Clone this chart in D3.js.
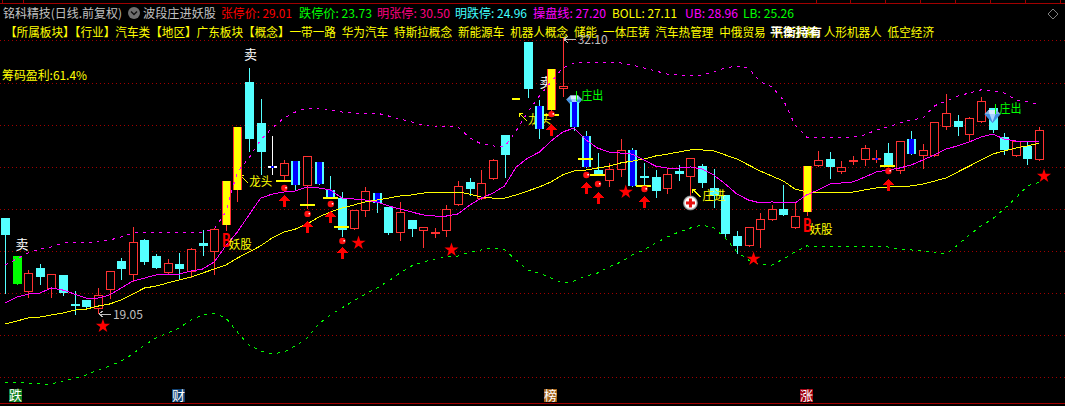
<!DOCTYPE html>
<html><head><meta charset="utf-8">
<style>html,body{margin:0;padding:0;background:#000;overflow:hidden}svg{display:block}text{font-family:"Noto Sans CJK SC","Noto Sans",sans-serif;font-size:12px}</style>
<script src="https://cdn.jsdelivr.net/npm/d3@7/dist/d3.min.js"></script>
</head><body><svg id="c" width="1065" height="406"></svg>
<script>
const opens=[23.57,21.76,20.05,21.19,20.19,20.86,19.48,19.67,19.24,20.14,21.52,20.86,22.52,21.76,20.95,21.38,21.00,22.38,21.95,23.23,24.90,30.03,28.08,26.05,25.56,26.27,25.09,26.22,24.90,24.51,23.04,23.90,24.75,24.09,22.85,23.47,22.95,22.90,22.95,24.18,25.28,24.47,25.42,27.51,29.22,31.93,28.89,28.70,29.69,29.08,27.46,25.84,25.32,25.84,26.80,25.57,25.51,24.94,25.80,25.51,26.03,24.99,24.66,22.71,22.24,23.00,23.47,23.99,23.09,23.85,26.03,26.37,25.75,26.31,26.32,26.40,26.65,25.80,27.32,26.51,26.51,27.89,28.17,27.51,28.13,28.79,27.41,26.51,26.99,26.32];
const closes=[22.76,20.43,20.95,20.76,20.90,20.00,19.43,19.34,19.91,21.05,21.14,22.43,21.47,21.19,21.43,21.14,22.09,22.24,23.04,25.32,27.89,27.32,26.70,26.03,26.18,25.13,26.51,25.18,24.56,23.00,23.95,24.85,24.28,22.85,23.85,23.04,23.14,22.92,23.99,25.09,24.94,25.23,26.32,26.56,29.20,29.69,27.79,30.64,29.83,27.89,25.99,25.61,25.89,26.80,25.09,25.55,24.85,25.65,25.65,26.41,25.23,24.61,22.81,22.24,23.14,23.52,23.99,23.71,23.66,26.03,26.32,25.99,25.99,26.33,26.89,26.42,26.08,27.22,26.60,26.80,28.13,28.55,27.89,28.31,29.12,27.75,26.80,27.22,26.37,27.75];
const highs=[23.57,21.76,21.09,21.38,20.90,20.86,20.10,19.67,20.24,21.05,21.66,23.14,22.57,21.85,21.62,21.90,22.14,23.00,23.09,25.32,27.89,30.69,29.22,27.46,26.32,26.27,26.51,26.22,25.56,24.80,23.95,25.04,24.75,24.09,24.33,23.47,23.14,23.09,24.18,25.32,25.47,25.84,26.37,27.51,29.22,31.93,29.17,30.64,32.10,29.08,27.70,26.65,26.18,27.32,26.89,26.18,25.84,25.89,26.08,26.41,26.13,25.89,24.66,22.95,23.14,23.80,24.18,25.13,24.33,26.03,26.75,26.70,26.27,26.51,27.03,26.80,27.13,27.22,27.70,27.08,28.13,29.45,28.46,28.36,29.31,28.79,27.60,27.22,27.22,27.89];
const lows=[20.00,20.43,19.81,20.43,19.81,19.91,19.00,19.29,19.05,19.76,20.67,20.57,21.38,21.19,20.95,20.67,20.76,21.81,20.90,23.00,24.37,26.75,25.65,25.65,25.37,24.90,24.04,25.18,24.56,22.71,23.04,23.66,23.85,22.81,22.52,22.71,22.19,22.66,22.71,24.18,24.66,24.47,25.42,25.51,29.20,29.31,27.37,28.55,29.36,27.75,25.99,25.61,25.09,25.56,25.09,25.09,24.56,24.75,25.37,24.66,25.04,24.09,22.71,21.90,22.24,22.19,23.47,23.71,23.09,23.71,26.03,25.47,25.70,26.13,26.08,26.22,26.08,25.70,26.60,25.94,26.51,27.79,27.51,27.27,28.13,27.65,26.60,26.51,26.13,26.32];
const bollMid=[18.53,18.67,18.82,18.86,18.96,19.05,19.19,19.24,19.38,19.48,19.67,19.95,20.24,20.33,20.48,20.62,20.76,20.95,21.14,21.33,21.66,21.95,22.24,22.62,22.90,23.04,23.28,23.61,23.85,24.04,24.18,24.33,24.42,24.51,24.61,24.66,24.75,24.80,24.80,24.80,24.70,24.56,24.51,24.51,24.66,24.85,25.04,25.28,25.61,25.80,25.84,25.94,26.03,26.18,26.27,26.37,26.51,26.60,26.70,26.80,26.80,26.75,26.56,26.37,26.08,25.80,25.56,25.32,24.94,24.80,24.80,24.80,24.80,24.80,24.90,24.99,25.04,25.04,25.09,25.18,25.32,25.47,25.75,26.03,26.32,26.60,26.75,26.89,26.99,27.11];
const opLine=[19.53,19.81,19.95,20.00,20.24,20.14,19.95,19.76,19.76,19.91,20.24,20.57,20.71,20.86,20.90,20.90,21.05,21.14,21.47,22.24,22.90,23.71,24.51,24.70,24.80,24.85,25.04,24.99,24.90,24.51,24.47,24.42,24.33,24.14,23.99,23.85,23.71,23.66,23.66,23.76,24.18,24.51,24.75,25.09,25.99,26.41,26.70,27.22,27.65,27.84,27.27,26.89,26.70,26.65,26.60,26.32,26.03,25.94,25.94,25.99,25.89,25.61,25.18,24.70,24.42,24.28,24.33,24.28,24.28,24.66,24.90,25.18,25.23,25.28,25.51,25.75,25.84,25.94,26.08,26.32,26.56,26.84,26.99,27.18,27.41,27.55,27.32,27.22,27.18,27.20];
const upperBand=[21.33,21.62,21.90,22.09,22.19,22.38,22.38,22.38,22.43,22.52,22.66,22.85,22.90,22.90,22.90,22.90,22.90,22.90,23.04,23.85,25.75,26.41,27.27,27.84,28.31,28.60,28.79,28.79,28.70,28.60,28.55,28.55,28.55,28.41,28.27,28.13,27.98,27.89,27.89,27.89,27.37,27.08,26.99,26.94,27.70,28.60,29.36,30.03,30.69,30.93,30.93,30.97,30.97,30.93,30.83,30.69,30.55,30.40,30.36,30.31,30.36,30.50,30.69,30.78,30.69,30.03,29.79,29.17,27.98,27.41,27.41,27.41,27.41,27.41,27.51,27.75,27.89,28.08,28.22,28.31,28.89,29.12,29.36,29.50,29.65,29.60,29.50,29.17,29.08,28.96];
const lowerBand=[15.77,15.77,15.73,15.68,15.68,15.82,15.96,16.11,16.35,16.53,16.77,17.11,17.53,17.86,18.10,18.34,18.72,18.96,19.05,18.82,18.15,17.53,17.25,17.11,17.20,17.49,17.86,18.53,18.96,19.29,19.62,19.95,20.24,20.57,20.95,21.29,21.47,21.62,21.71,21.76,21.95,22.05,22.14,22.05,21.57,21.09,20.95,20.71,20.48,20.57,20.81,20.95,21.24,21.47,21.81,22.05,22.38,22.66,22.90,23.09,23.23,23.09,22.62,21.95,21.57,21.38,21.33,21.62,21.95,22.24,22.19,22.19,22.19,22.19,22.19,22.19,22.19,22.09,22.05,22.00,21.95,21.85,22.28,22.76,23.19,23.52,23.99,24.51,25.09,25.26];
const priceTicks=[32,30,28,26,24,22,20,18,16];
const yellowBars=[19,20,47,69];
const blueBars=[25,27,28,32,46,49,50,54,78];
const limitDownBars=[1];
const blueDoji=[23,75];
const hiddenBars=[44];
const stars=[[8,18.43],[30,22.38],[38,22.05],[53,24.80],[64,21.62],[89,25.56]];
const arrows=[[24,24.66],[26,23.42],[28,23.90],[29,22.19],[47,28.03],[50,25.28],[51,24.80],[55,24.61],[76,25.42]];
const dots=[[24,24.99],[26,23.76],[28,24.23],[29,22.47],[47,28.50],[50,25.61],[51,25.18],[55,24.94],[76,25.80]];
const dashes=[[24,25.32],[26,24.18],[28,24.51],[29,23.14],[47,28.46],[50,26.37],[51,25.61],[55,25.09],[76,26.03]];
const shortDashes=[[44,29.22]];
const gemsBack=[[49,29.10]];
const gemsFront=[[85,28.41]];
const sellLabels=[[21,31.11,-5,"卖"],[1,22.1,-1,"卖"],[46,29.78,0,"卖"]];
const dragonLabels=[[20,25.08],[44,28.03]];
const extremes=[[48,32.10,"32.10"],[8,19.05,"19.05"]];
const demonLabels=[[19,22.19],[69,22.90]];
const outLabels=[[49,29.17],[85,28.55]];
const headerItems=[["铭科精技(日线.前复权)",3,119,"#c0c0c0"],["波段庄进妖股",143,73,"#c0c0c0"],["张停价: 29.01",221,71,"#ff0000"],["跌停价: 23.73",299,73,"#00ff00"],["明张停: 30.50",377,73,"#ff0080"],["明跌停: 24.96",455,72,"#40ffff"],["操盘线: 27.20",533,73,"#ff00ff"],["BOLL: 27.11",612,65,"#ffff00"],["UB: 28.96",685,53,"#ff00ff"],["LB: 25.26",743,51,"#00ff00"]];
const sectorLine="【所属板块】【行业】汽车类【地区】广东板块【概念】一带一路\u2002华为汽车\u2002特斯拉概念\u2002新能源车\u2002机器人概念\u2002储能\u2002一体压铸\u2002汽车热管理\u2002中俄贸易\u2002汽车拆解\u2002人形机器人\u2002低空经济";
const bottomTabs=[["跌",9,"#108020"],["财",172,"#104070"],["榜",544,"#a06018"],["涨",800,"#a00010"]];

const width=1065,height=406,nBars=opens.length;
const svg=d3.select("#c");
const x=d3.scaleLinear().domain([0,nBars-1]).range([5,1039]);
const y=d3.scaleLinear().domain([33.92,14.635]).range([0,406]);
const txt=(g,t,px,py,col,opt={})=>{const e=g.append("text").attr("x",px).attr("y",py).attr("fill",col).text(t);
  if(opt.w)e.attr("textLength",opt.w).attr("lengthAdjust","spacingAndGlyphs");
  if(opt.size)e.style("font-size",opt.size+"px");if(opt.anchor)e.attr("text-anchor",opt.anchor);if(opt.bold)e.style("font-weight",700);return e;};

// frame
const frame=svg.append("g").attr("shape-rendering","crispEdges").attr("stroke","#a00000");
frame.append("line").attr("x1",0).attr("x2",width).attr("y1",3.5).attr("y2",3.5);
frame.append("line").attr("x1",0).attr("x2",width).attr("y1",403.5).attr("y2",403.5);
[2,23,816,850,885,920,955,990,1025,1060].forEach(t=>frame.append("line").attr("x1",t+.5).attr("x2",t+.5).attr("y1",0).attr("y2",3));
svg.append("path").attr("d","M1053 9L1058 14L1053 19L1048 14Z").attr("fill","none").attr("stroke","#808080");

// grid
svg.append("g").selectAll("line").data(priceTicks).join("line")
 .attr("x1",0).attr("x2",width).attr("y1",d=>Math.round(y(d))+.5).attr("y2",d=>Math.round(y(d))+.5)
 .attr("stroke","#a00000").attr("stroke-dasharray","1 3").attr("shape-rendering","crispEdges");

// header
const head=svg.append("g");
headerItems.forEach(h=>txt(head,h[0],h[1],17.5,h[3],{w:h[2]}));
const ico=head.append("g");
ico.append("circle").attr("cx",134).attr("cy",13).attr("r",6).attr("fill","#707070");
ico.append("path").attr("d","M131 11.5L134 14.5L137 11.5").attr("fill","none").attr("stroke","#111").attr("stroke-width",1.4);
txt(head,sectorLine,5,37,"#ffff00",{w:929});
txt(head,"平衡持有",770,37,"#ffffff",{w:52,bold:true});
txt(head,"筹码盈利:61.4%",2,80,"#ffff00",{w:85});

// annotations behind candles
const behind=svg.append("g");
sellLabels.forEach(s=>txt(behind,s[3],x(s[0])+s[2],y(s[1]),"#ffffff",{size:13}));
const arrowLeft=(g,ax,ay,col)=>{g.append("path").attr("d",`M${ax} ${ay}L${ax+8} ${ay+8}M${ax} ${ay}h4M${ax} ${ay}v4`).attr("stroke",col).attr("fill","none").attr("shape-rendering","crispEdges");};
dragonLabels.forEach(d=>{const px=x(d[0])+3,py=y(d[1]);arrowLeft(behind,px,py-11,"#ffff00");txt(behind,"龙头",px+9,py,"#ffff00",{w:23});});

// gems
const gem=(g,i,p)=>{const cx=x(i),cy=y(p);
 g.append("path").attr("d",`M${cx-8} ${cy-2}L${cx-4} ${cy-6}H${cx+4}L${cx+8} ${cy-2}L${cx} ${cy+7}Z`).attr("fill","#7fb4ea");
 g.append("path").attr("d",`M${cx-8} ${cy-2}H${cx+8}L${cx} ${cy+7}Z`).attr("fill","#3f8fe0");
 g.append("path").attr("d",`M${cx-4} ${cy-6}H${cx+4}L${cx+3} ${cy-2}H${cx-3}Z`).attr("fill","#d8ecff");
 g.append("path").attr("d",`M${cx-3} ${cy-2}H${cx+3}L${cx} ${cy+6}Z`).attr("fill","#a8d4ff");};
gemsBack.forEach(d=>gem(svg.append("g"),d[0],d[1]));

// candles
const cg=svg.append("g").attr("shape-rendering","crispEdges");
const bw=9;
d3.range(nBars).forEach(i=>{
 if(hiddenBars.includes(i))return;
 const o=opens[i],c=closes[i],up=c>=o,cx=Math.round(x(i));
 const top=Math.round(y(Math.max(o,c))),bot=Math.round(y(Math.min(o,c)));
 const hi=Math.round(y(highs[i])),lo=Math.round(y(lows[i]));
 const isY=yellowBars.includes(i),isB=blueBars.includes(i),isG=limitDownBars.includes(i),isD=blueDoji.includes(i);
 const red="#ff3232",cy="#54ffff";
 const wick=i==23?"#ffffff":(up||isY?red:(isG?"#00ff00":cy));
 cg.append("line").attr("x1",cx+.5).attr("x2",cx+.5).attr("y1",hi).attr("y2",lo+1).attr("stroke",wick);
 const L=cx-4;
 if(isD){
  cg.append("rect").attr("x",L).attr("y",top).attr("width",bw).attr("height",2).attr("fill",i==23?"#ffffff":red);
  cg.append("rect").attr("x",cx-1).attr("y",top).attr("width",3).attr("height",2).attr("fill","#0000ff");
 } else if(isY){
  cg.append("rect").attr("x",L).attr("y",top).attr("width",bw).attr("height",bot-top).attr("fill",red);
  cg.append("rect").attr("x",L+1).attr("y",top).attr("width",bw-2).attr("height",bot-top).attr("fill","#ffff00");
 } else if(isG){
  cg.append("rect").attr("x",L).attr("y",top).attr("width",bw).attr("height",bot-top).attr("fill","#00ff00");
 } else if(isB){
  cg.append("rect").attr("x",L).attr("y",top).attr("width",bw).attr("height",bot-top).attr("fill",cy);
  cg.append("rect").attr("x",L+2).attr("y",top).attr("width",bw-4).attr("height",bot-top).attr("fill","#0000ff");
 } else if(up){
  cg.append("rect").attr("x",L+.5).attr("y",top+.5).attr("width",bw-1).attr("height",Math.max(bot-top-1,1)).attr("fill","#000").attr("stroke",red);
 } else {
  cg.append("rect").attr("x",L).attr("y",top).attr("width",bw).attr("height",Math.max(bot-top,2)).attr("fill",cy);
 }
});

// lines
const line=d3.line().x((d,i)=>x(i)).y(d=>y(d));
const lg=svg.append("g").attr("fill","none").attr("shape-rendering","crispEdges");
lg.append("path").attr("d",line(upperBand)).attr("stroke","#ff00ff").attr("stroke-dasharray","3 5");
lg.append("path").attr("d",line(lowerBand)).attr("stroke","#00ff00").attr("stroke-dasharray","3 5");
lg.append("path").attr("d",line(bollMid)).attr("stroke","#ffff00");
lg.append("path").attr("d",line(opLine)).attr("stroke","#ff00ff");

// signals
const sg=svg.append("g");
const dash=(arr,w)=>arr.forEach(d=>sg.append("rect").attr("x",x(d[0])-w/2).attr("y",Math.round(y(d[1]))-1).attr("width",w).attr("height",2).attr("fill","#ffff00").attr("shape-rendering","crispEdges"));
dash(dashes,15);dash(shortDashes,8);
arrows.forEach(d=>{const cx=x(d[0])+.5,t=y(d[1]);sg.append("path").attr("d",`M${cx} ${t}L${cx+6} ${t+6}H${cx+1.5}V${t+12}H${cx-1.5}V${t+6}H${cx-6}Z`).attr("fill","#ff0000").attr("shape-rendering","crispEdges");});
dots.forEach(d=>{const cx=x(d[0])+.5,t=y(d[1]);sg.append("circle").attr("cx",cx).attr("cy",t).attr("r",3.2).attr("fill","#ff1010");
 sg.append("rect").attr("x",cx+1).attr("y",t-1).attr("width",1.5).attr("height",1.5).attr("fill","#fff");});
stars.forEach(d=>sg.append("path").attr("d",d3.symbol(d3.symbolStar,62)()).attr("transform",`translate(${x(d[0])+5},${y(d[1])})`).attr("fill","#ff0000"));

gemsFront.forEach(d=>gem(sg,d[0],d[1]));

// extreme price labels
extremes.forEach(d=>{const px=x(d[0])+1,py=y(d[1])+1;
 sg.append("path").attr("d",`M${px} ${py}h12M${px} ${py}l4 -3M${px} ${py}l4 3`).attr("stroke","#c0c0c0").attr("fill","none").attr("shape-rendering","crispEdges");
 txt(sg,d[2],px+14,py+5,"#c0c0c0",{w:30});});

// B 妖股
demonLabels.forEach(d=>{const px=x(d[0])-4,py=y(d[1]);
 txt(sg,"B",px,py,"#ff0000",{size:18,bold:true,w:9});
 txt(sg,"妖股",px+7,py+2,"#ffff00",{w:23});});

// 庄出
outLabels.forEach(d=>{const px=x(d[0]),py=y(d[1]);
 sg.append("line").attr("x1",px+2.5).attr("x2",px+2.5).attr("y1",py-9).attr("y2",py+1).attr("stroke","#00ff00").attr("shape-rendering","crispEdges");
 txt(sg,"庄出",px+7,py,"#00ff00",{w:22});});

// 庄进 + plus circle
(function(){const i=59,cx=x(i),cy=y(24.28);
 const defs=svg.append("defs");
 const rg=defs.append("radialGradient").attr("id","halo");
 rg.append("stop").attr("offset","70%").attr("stop-color","#fff");
 rg.append("stop").attr("offset","100%").attr("stop-color","#666");
 sg.append("circle").attr("cx",cx).attr("cy",cy).attr("r",7.5).attr("fill","url(#halo)");
 sg.append("rect").attr("x",cx-4.5).attr("y",cy-1.5).attr("width",9).attr("height",3).attr("fill","#e81010");
 sg.append("rect").attr("x",cx-1.5).attr("y",cy-4.5).attr("width",3).attr("height",9).attr("fill","#e81010");
 arrowLeft(sg,cx+2,y(24.94),"#ffff00");
 txt(sg,"庄进",cx+12,y(24.42),"#ffff00",{w:23});
})();

// bottom tabs
const tg=svg.append("g");
bottomTabs.forEach(b=>{tg.append("rect").attr("x",b[1]).attr("y",389).attr("width",13).attr("height",13).attr("fill",b[2]);
 txt(tg,b[0],b[1],400,"#ffffff",{size:13});});
</script></body></html>
